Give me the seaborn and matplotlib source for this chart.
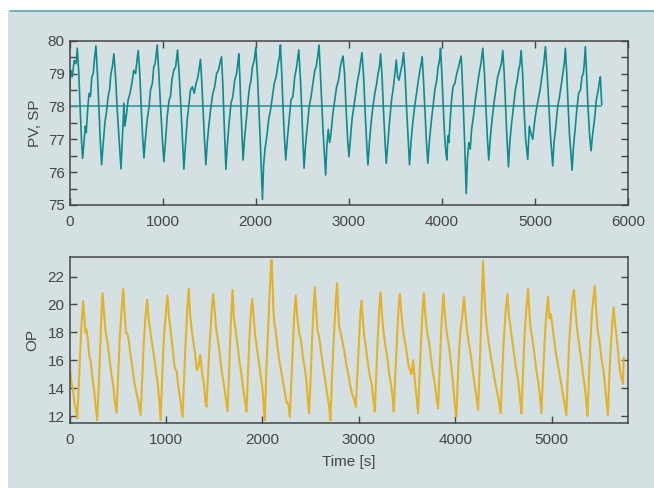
import matplotlib
matplotlib.use("Agg")
import matplotlib.pyplot as plt
import pandas as pd
import seaborn as sns
from matplotlib.patches import Rectangle
from matplotlib.lines import Line2D
from matplotlib.ticker import MultipleLocator

# PV (process value)
pv_t = [0, 15, 30, 50, 70, 84, 100, 115, 130, 141,
        155, 170, 180, 195, 210, 225, 240, 255, 270, 284, 300, 315, 330, 345,
        360, 380, 400, 415, 430, 445, 460, 477, 495, 515, 535, 553,
        570, 585, 595, 610, 630, 650, 670, 690, 710, 725, 738, 755, 770, 785, 800,
        815, 835, 855, 870, 890, 905, 920, 942, 960, 980, 1000, 1014,
        1030, 1050, 1070, 1085, 1100, 1120, 1140, 1161, 1180, 1200, 1215, 1229,
        1245, 1265, 1285, 1300, 1320, 1340, 1360, 1380, 1395, 1407, 1420, 1435, 1450, 1465,
        1480, 1500, 1520, 1540, 1560, 1580, 1600, 1615, 1633, 1645, 1658, 1670, 1680,
        1695, 1715, 1735, 1755, 1775, 1795, 1808, 1819, 1830, 1842, 1855, 1865,
        1880, 1900, 1915, 1935, 1950, 1965, 1985, 2001, 2020, 2035, 2050, 2062, 2073,
        2085, 2100, 2120, 2140, 2160, 2180, 2200, 2220, 2240, 2255, 2266, 2280, 2295, 2310, 2323,
        2340, 2360, 2380, 2400, 2420, 2440, 2463, 2480, 2495, 2508, 2520,
        2535, 2555, 2575, 2595, 2615, 2635, 2650, 2665, 2681, 2695, 2710, 2725, 2740, 2752,
        2765, 2780, 2795, 2810, 2830, 2850, 2870, 2890, 2910, 2925, 2938, 2955, 2970, 2988, 3002,
        3018, 3035, 3055, 3075, 3095, 3110, 3125, 3142, 3160, 3175, 3192, 3206,
        3222, 3240, 3260, 3280, 3300, 3315, 3330, 3342, 3358, 3373, 3390, 3403,
        3420, 3440, 3460, 3480, 3495, 3511, 3525, 3540, 3560, 3575, 3589, 3605, 3620, 3638, 3653,
        3668, 3688, 3708, 3728, 3748, 3765, 3778, 3789, 3803, 3818, 3835, 3850,
        3865, 3885, 3905, 3925, 3945, 3960, 3975, 3986, 4000, 4015, 4030, 4043, 4054,
        4065, 4075, 4090, 4105, 4120, 4140, 4160, 4180, 4195, 4208, 4220, 4232, 4245, 4255, 4262,
        4275, 4290, 4305, 4320, 4340, 4360, 4380, 4400, 4420, 4440, 4458, 4473, 4490, 4504,
        4520, 4540, 4560, 4580, 4600, 4620, 4640, 4655, 4670, 4685, 4700, 4716,
        4730, 4750, 4770, 4790, 4810, 4825, 4840, 4852, 4868, 4882, 4900, 4923,
        4940, 4955, 4976, 4995, 5015, 5035, 5055, 5075, 5095, 5113, 5130, 5148, 5165, 5180, 5191,
        5205, 5225, 5245, 5265, 5285, 5300, 5315, 5327, 5342, 5357, 5372, 5386, 5399,
        5415, 5432, 5450, 5470, 5490, 5505, 5520, 5530, 5542, 5555, 5570, 5588, 5603,
        5618, 5640, 5660, 5680, 5695, 5703, 5712, 5718]
pv_v = [78.5, 79.1, 78.9, 79.4, 79.3, 79.77, 79.0, 77.9, 76.9, 76.42,
        76.9, 77.4, 77.2, 77.9, 78.4, 78.3, 78.9, 79.0, 79.5, 79.84, 79.0, 78.0, 77.0, 76.22,
        76.8, 77.5, 77.9, 78.3, 78.5, 79.0, 79.2, 79.6, 78.9, 77.8, 76.9, 76.1,
        77.2, 78.1, 77.4, 77.7, 78.2, 78.4, 78.7, 79.1, 79.0, 79.4, 79.7, 79.0, 78.0, 77.1, 76.43,
        77.0, 77.6, 78.0, 78.5, 78.7, 79.2, 79.3, 79.87, 79.0, 77.9, 76.9, 76.32,
        76.9, 77.7, 78.2, 78.3, 78.8, 79.1, 79.2, 79.72, 78.9, 77.8, 76.9, 76.09,
        76.8, 77.6, 78.1, 78.5, 78.6, 78.4, 78.7, 78.9, 79.2, 79.43, 78.8, 77.9, 77.0, 76.22,
        76.9, 77.5, 78.0, 78.4, 78.6, 79.0, 79.1, 79.3, 79.51, 78.8, 77.8, 76.9, 76.09,
        76.8, 77.5, 78.1, 78.3, 78.8, 79.0, 79.3, 79.6, 78.9, 77.9, 77.0, 76.37,
        77.0, 77.6, 78.1, 78.6, 78.8, 79.2, 79.4, 79.8, 78.9, 77.9, 76.9, 76.0, 75.17,
        76.2, 76.7, 77.1, 77.6, 77.9, 78.3, 78.7, 78.9, 79.3, 79.5, 79.87, 79.0, 77.9, 77.0, 76.37,
        77.0, 77.6, 78.2, 78.3, 78.9, 79.2, 79.72, 78.9, 77.9, 76.9, 76.12,
        76.8, 77.4, 78.0, 78.3, 78.7, 79.1, 79.2, 79.5, 79.87, 79.0, 78.0, 77.2, 76.5, 75.91,
        76.8, 77.3, 76.9, 77.2, 77.8, 78.2, 78.6, 78.8, 79.2, 79.4, 79.53, 79.0, 78.0, 77.0, 76.47,
        77.0, 77.6, 78.0, 78.4, 78.8, 79.0, 79.3, 79.64, 78.9, 77.9, 76.9, 76.22,
        76.9, 77.5, 78.0, 78.4, 78.7, 79.0, 79.2, 79.6, 78.9, 77.9, 76.9, 76.27,
        76.9, 77.6, 78.2, 78.6, 79.0, 79.41, 78.9, 78.8, 79.1, 79.3, 79.64, 79.0, 78.0, 77.0, 76.22,
        76.9, 77.5, 78.0, 78.4, 78.8, 79.1, 79.3, 79.51, 78.8, 77.9, 76.9, 76.27,
        76.9, 77.5, 78.0, 78.5, 78.8, 79.2, 79.4, 79.77, 79.0, 78.0, 77.1, 76.6, 76.37,
        77.1, 76.9, 77.6, 78.2, 78.6, 78.7, 79.0, 79.2, 79.4, 79.53, 78.8, 77.9, 76.9, 76.0, 75.35,
        76.4, 76.9, 76.7, 77.3, 77.7, 78.2, 78.6, 79.0, 79.3, 79.77, 79.0, 78.0, 77.0, 76.37,
        77.0, 77.6, 78.1, 78.5, 78.9, 79.1, 79.3, 79.7, 79.0, 78.0, 77.0, 76.16,
        76.9, 77.5, 78.0, 78.5, 78.8, 79.1, 79.3, 79.7, 79.0, 78.0, 77.0, 76.39,
        77.4, 77.2, 77.0, 77.5, 77.9, 78.2, 78.5, 78.9, 79.3, 79.82, 79.1, 78.1, 77.2, 76.6, 76.19,
        76.9, 77.4, 78.0, 78.3, 78.7, 79.0, 79.3, 79.77, 79.0, 78.0, 77.1, 76.6, 76.06,
        76.8, 77.3, 77.9, 78.4, 78.5, 78.9, 79.0, 79.3, 79.82, 79.0, 78.0, 77.1, 76.65,
        77.1, 77.6, 78.2, 78.5, 78.8, 78.9, 78.4, 78.05]

# SP (set point) is constant
sp_t = [0, 5712]
sp_v = [78.0, 78.0]

# OP (controller output)
op_t = [0, 10, 20, 35, 50, 65, 80, 95, 110, 125, 142, 155, 165, 175, 190, 205, 220, 240, 255, 270, 287,
        305, 320, 333, 343, 360, 375, 395, 415, 435, 455, 470, 488,
        505, 520, 540, 557, 570, 585, 600, 615, 630, 650, 670, 690, 710, 737,
        755, 770, 790, 805, 820, 840, 860, 880, 900, 915, 930, 944,
        960, 980, 1000, 1016, 1030, 1050, 1070, 1090, 1110, 1130, 1150, 1172,
        1190, 1205, 1222, 1237, 1250, 1265, 1280, 1300, 1320, 1340, 1355, 1375, 1395, 1410, 1420,
        1440, 1460, 1475, 1490, 1505, 1520, 1540, 1560, 1580, 1600, 1620, 1638,
        1655, 1670, 1690, 1705, 1720, 1740, 1760, 1780, 1800, 1820, 1835,
        1850, 1865, 1880, 1895, 1910, 1925, 1945, 1965, 1985, 2000, 2012, 2025,
        2040, 2055, 2070, 2082, 2094, 2105, 2115, 2125, 2140, 2155, 2170, 2190, 2210, 2230, 2250, 2270, 2284,
        2300, 2315, 2330, 2346, 2360, 2380, 2400, 2420, 2440, 2455, 2470, 2484,
        2500, 2515, 2530, 2543, 2555, 2570, 2590, 2610, 2630, 2650, 2670, 2690, 2705,
        2720, 2740, 2758, 2774, 2785, 2795, 2810, 2830, 2850, 2870, 2890, 2910, 2930, 2950, 2968,
        2985, 3000, 3015, 3027, 3040, 3055, 3075, 3095, 3115, 3135, 3150, 3165,
        3180, 3195, 3210, 3224, 3240, 3255, 3275, 3295, 3315, 3335, 3350, 3362,
        3378, 3395, 3410, 3424, 3440, 3455, 3475, 3495, 3515, 3545, 3562, 3580, 3600, 3614,
        3630, 3645, 3660, 3673, 3690, 3705, 3725, 3745, 3765, 3785, 3805, 3821,
        3835, 3850, 3865, 3878, 3890, 3905, 3925, 3945, 3960, 3975, 3990, 4000, 4011,
        4025, 4040, 4055, 4070, 4090, 4105, 4120, 4140, 4160, 4180, 4200, 4220, 4235,
        4250, 4262, 4275, 4287, 4300, 4312, 4325, 4345, 4365, 4385, 4405, 4425, 4445, 4470,
        4485, 4500, 4520, 4540, 4555, 4570, 4590, 4610, 4630, 4650, 4670, 4685,
        4700, 4715, 4735, 4754, 4768, 4780, 4800, 4820, 4840, 4860, 4878, 4892,
        4910, 4925, 4945, 4961, 4975, 4990, 5005, 5025, 5045, 5065, 5085, 5105, 5125, 5151,
        5165, 5180, 5200, 5215, 5230, 5245, 5260, 5280, 5300, 5320, 5340, 5355, 5369,
        5385, 5400, 5415, 5430, 5445, 5460, 5475, 5495, 5515, 5535, 5550, 5565, 5582,
        5595, 5610, 5625, 5641, 5655, 5670, 5690, 5705, 5720, 5738, 5745]
op_v = [16.3, 15.0, 14.4, 14.0, 13.0, 12.5, 11.83, 14.0, 16.5, 18.6, 20.24, 19.0, 18.0, 18.2, 17.5, 16.3, 15.9, 14.6, 13.8, 12.8, 11.7,
        14.5, 17.2, 19.5, 20.8, 19.2, 18.0, 17.2, 16.1, 15.0, 14.1, 13.0, 12.24,
        15.0, 17.5, 19.6, 21.1, 19.5, 18.0, 17.9, 17.4, 16.5, 15.6, 14.5, 13.8, 13.2, 12.07,
        14.8, 17.3, 19.3, 20.33, 19.0, 18.0, 17.0, 16.1, 15.0, 14.3, 13.2, 11.7,
        14.6, 17.8, 19.5, 20.64, 19.2, 18.0, 16.8, 15.5, 15.2, 14.0, 13.1, 11.95,
        15.0, 17.5, 19.8, 21.12, 19.3, 18.3, 17.5, 16.6, 15.3, 15.6, 16.4, 15.1, 14.2, 13.0, 12.66,
        15.5, 18.0, 19.6, 20.76, 19.6, 18.3, 17.4, 16.3, 15.1, 14.3, 13.3, 12.36,
        15.2, 18.2, 21.05, 19.0, 18.3, 17.2, 16.0, 15.1, 14.0, 13.0, 12.31,
        15.0, 17.6, 19.4, 20.4, 19.0, 17.8, 16.8, 15.8, 14.8, 14.0, 12.8, 11.7,
        15.2, 17.6, 20.0, 22.0, 23.19, 21.5, 19.5, 18.6, 18.0, 17.0, 16.2, 15.4, 14.6, 13.8, 13.0, 12.8, 11.95,
        14.5, 17.0, 19.3, 20.64, 19.2, 18.0, 17.4, 16.2, 15.4, 14.6, 13.2, 12.19,
        14.8, 17.5, 19.8, 21.24, 19.8, 18.2, 17.6, 16.5, 15.5, 14.6, 13.6, 12.8, 11.7,
        14.6, 17.6, 20.0, 21.52, 19.6, 18.4, 18.0, 17.3, 16.6, 15.7, 15.0, 14.2, 13.6, 13.2, 12.66,
        15.0, 17.2, 19.3, 20.29, 19.0, 17.8, 16.8, 15.7, 14.8, 14.2, 13.2, 12.31,
        15.0, 17.5, 19.6, 20.88, 19.2, 18.1, 17.0, 16.2, 15.0, 14.2, 13.3, 12.31,
        15.0, 17.6, 19.6, 20.76, 19.4, 18.3, 17.4, 16.6, 15.6, 15.0, 16.0, 14.6, 13.2, 12.19,
        15.0, 17.4, 19.6, 20.8, 19.2, 18.1, 17.4, 16.3, 15.2, 14.4, 13.3, 12.55,
        15.0, 17.6, 19.6, 20.76, 19.4, 18.3, 17.4, 16.4, 15.4, 14.4, 13.2, 12.5, 11.95,
        14.5, 16.8, 18.3, 19.0, 20.52, 19.3, 18.2, 17.2, 16.4, 15.3, 14.2, 13.3, 12.43,
        15.0, 17.5, 20.3, 23.1, 21.0, 19.4, 18.4, 17.3, 16.4, 15.6, 14.7, 14.0, 13.3, 12.19,
        14.8, 17.2, 19.4, 20.76, 19.2, 18.5, 17.4, 16.4, 15.4, 14.6, 13.3, 12.19,
        14.8, 17.4, 19.6, 21.12, 19.4, 18.3, 17.5, 16.4, 15.3, 14.4, 13.4, 12.19,
        15.0, 17.3, 19.5, 20.57, 19.0, 19.3, 18.5, 17.4, 16.4, 15.6, 14.8, 14.0, 13.2, 12.07,
        14.8, 17.3, 19.3, 20.5, 21.05, 19.6, 18.4, 17.3, 16.3, 15.2, 14.2, 13.2, 12.0,
        14.8, 17.3, 19.2, 20.4, 21.36, 19.6, 18.2, 17.3, 16.1, 15.3, 14.3, 13.2, 12.07,
        14.6, 16.8, 18.5, 19.8, 18.6, 17.8, 16.4, 15.3, 14.8, 14.3, 16.2]

BG = "#d5e0e2"
TEAL = "#0e8b8c"
GOLD = "#e3b22b"
INK = "#454545"

sns.set_theme(style="ticks")
plt.rcParams["font.family"] = ["Liberation Sans", "DejaVu Sans"]
plt.rcParams["text.color"] = INK
plt.rcParams["axes.labelcolor"] = INK
plt.rcParams["xtick.color"] = INK
plt.rcParams["ytick.color"] = INK

pv = pd.DataFrame({"t": pv_t, "v": pv_v})
sp = pd.DataFrame({"t": sp_t, "v": sp_v})
op = pd.DataFrame({"t": op_t, "v": op_v})

fig = plt.figure(figsize=(6.54, 4.88), dpi=100, facecolor="white")
fig.patches.append(Rectangle((8 / 654, 0), 1, 1 - 11 / 488, transform=fig.transFigure,
                             facecolor=BG, edgecolor="none", zorder=-2))
fig.lines.append(Line2D([10 / 654, 1], [1 - 10.5 / 488] * 2, transform=fig.transFigure,
                        color="#5aa5a8", lw=1.2, zorder=-1))

ax1 = fig.add_axes([69.5 / 654, 1 - 205 / 488, (628 - 69.5) / 654, (205 - 40.7) / 488])
ax2 = fig.add_axes([69.5 / 654, 1 - 423 / 488, (628 - 69.5) / 654, (423 - 257) / 488])

# top panel: PV and SP
sns.lineplot(data=sp, x="t", y="v", ax=ax1, color="#3f9fa1", lw=1.3, estimator=None)
sns.lineplot(data=pv, x="t", y="v", ax=ax1, color=TEAL, lw=1.2, estimator=None)
ax1.set_xlim(0, 6000)
ax1.set_ylim(75, 80)
ax1.yaxis.set_major_locator(MultipleLocator(1))
ax1.yaxis.set_minor_locator(MultipleLocator(0.5))
ax1.xaxis.set_major_locator(MultipleLocator(1000))
ax1.set_xlabel("")
ax1.set_ylabel("PV, SP", fontsize=11, labelpad=4)
ax1.tick_params(which="both", direction="in", top=True, right=True, labelsize=11, width=1)
ax1.tick_params(which="major", length=5)
ax1.tick_params(which="minor", length=5)
ax1.tick_params(axis="x", pad=7)

# bottom panel: OP
sns.lineplot(data=op, x="t", y="v", ax=ax2, color=GOLD, lw=1.5, estimator=None)
ax2.set_xlim(0, 5790)
ax2.set_ylim(11.5, 23.4)
ax2.yaxis.set_major_locator(MultipleLocator(2))
ax2.xaxis.set_major_locator(MultipleLocator(1000))
ax2.set_xlabel("Time [s]", fontsize=11, labelpad=6)
ax2.set_ylabel("OP", fontsize=11, labelpad=6)
ax2.tick_params(which="both", direction="in", top=False, right=True, labelsize=11,
                length=5, width=1)
ax2.tick_params(axis="x", pad=7)

for ax in (ax1, ax2):
    ax.set_facecolor(BG)
    for s in ax.spines.values():
        s.set_visible(True)
        s.set_color(INK)
        s.set_linewidth(1.1)

fig.savefig("out.png", dpi=100, facecolor="white")
